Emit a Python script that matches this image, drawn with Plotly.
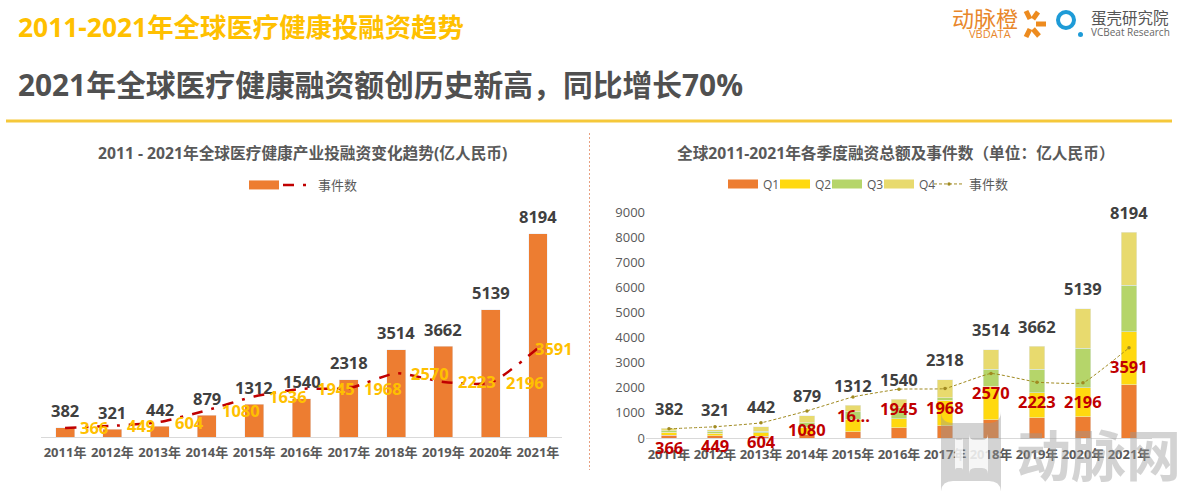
import plotly.graph_objects as go

W, H = 1189, 491
FONT = "Open Sans, Noto Sans CJK SC, sans-serif"
CJK = "Noto Sans CJK SC, sans-serif"

years = ["2011年", "2012年", "2013年", "2014年", "2015年", "2016年",
         "2017年", "2018年", "2019年", "2020年", "2021年"]
totals = [382, 321, 442, 879, 1312, 1540, 2318, 3514, 3662, 5139, 8194]
events = [366, 449, 604, 1080, 1636, 1945, 1968, 2570, 2223, 2196, 3591]
event_labels_right = ["366", "449", "604", "1080", "16...", "1945", "1968",
                      "2570", "2223", "2196", "3591"]
q1 = [118, 94, 69, 135, 240, 413, 495, 735, 815, 840, 2130]
q2 = [106, 93, 138, 298, 515, 347, 1010, 1330, 985, 1160, 2106]
q3 = [66, 80, 69, 175, 292, 440, 105, 665, 930, 1570, 1852]
q4 = [92, 54, 166, 271, 265, 340, 708, 784, 932, 1569, 2106]
y_ticks = [0, 1000, 2000, 3000, 4000, 5000, 6000, 7000, 8000, 9000]

ORANGE = "#ED7D31"
DARK_RED = "#C00000"
GOLD = "#FFC000"


def px(x):
    return x / W


def py(y):
    return 1 - y / H


def text(x, y, s, size, color, bold=False, anchor="left", font=CJK, opacity=1):
    return dict(xref="paper", yref="paper", x=px(x), y=py(y), text=s, showarrow=False,
                xanchor=anchor, yanchor="middle", opacity=opacity,
                font=dict(family=font, size=size, color=color,
                          weight="bold" if bold else "normal"))


def stroke(x0, y0, x1, y1, color, width):
    return dict(type="line", xref="paper", yref="paper", x0=px(x0), y0=py(y0),
                x1=px(x1), y1=py(y1), line=dict(color=color, width=width))


def legend_box(x, y, size=13):
    return dict(orientation="h", x=px(x), xanchor="left", y=py(y), yanchor="middle",
                font=dict(family=FONT, size=size, color="#595959"),
                bgcolor="rgba(0,0,0,0)", itemwidth=30)


def legend_bar(name, color, legend, xa, ya):
    # wide legend swatch like the original, bars only give a small square
    return go.Scatter(x=[None], y=[None], name=name, mode="lines",
                      line=dict(color=color, width=9), legend=legend, xaxis=xa, yaxis=ya)


def rounded_box(x0, y0, x1, y1, r):
    a, b, c, d = px(x0), py(y0), px(x1), py(y1)
    rx, ry = r / W, r / H
    return (f"M {a + rx} {b} L {c - rx} {b} Q {c} {b} {c} {b - ry} L {c} {d + ry} "
            f"Q {c} {d} {c - rx} {d} L {a + rx} {d} Q {a} {d} {a} {d + ry} "
            f"L {a} {b - ry} Q {a} {b} {a + rx} {b} Z")


fig = go.Figure()

# left chart
fig.add_trace(go.Bar(x=years, y=totals, marker_color=ORANGE, width=0.4,
                     xaxis="x", yaxis="y", showlegend=False))
fig.add_trace(legend_bar(" ", ORANGE, "legend", "x", "y"))
fig.add_trace(go.Scatter(x=years, y=events, name="事件数", mode="lines",
                         line=dict(color=DARK_RED, width=2.5, shape="spline", smoothing=0.6,
                                   dash="11px,9px,3px,9px"),
                         xaxis="x", yaxis="y", legend="legend2"))

# right chart
for name, vals, color, leg in [("Q1", q1, ORANGE, "legend3"), ("Q2", q2, "#FFD90F", "legend4"),
                               ("Q3", q3, "#B5D56A", "legend5"), ("Q4", q4, "#E8DA6E", "legend6")]:
    fig.add_trace(go.Bar(x=years, y=vals, marker_color=color, width=0.33,
                         xaxis="x2", yaxis="y2", showlegend=False))
    fig.add_trace(legend_bar(name, color, leg, "x2", "y2"))
fig.add_trace(go.Scatter(x=years, y=events, name="事件数", mode="lines+markers",
                         line=dict(color="#A08A20", width=1, shape="spline", smoothing=0.3,
                                   dash="3px,2px"),
                         marker=dict(size=3.5, color="#A08A20"),
                         xaxis="x2", yaxis="y2", legend="legend7"))

notes = []
label_font = dict(family=FONT, size=16.5, weight="bold")
for i, yr in enumerate(years):
    notes.append(dict(x=yr, y=totals[i], xref="x", yref="y", text=str(totals[i]), showarrow=False,
                      yshift=17, font=dict(label_font, color="#404040")))
    notes.append(dict(x=yr, y=events[i], xref="x", yref="y", text=str(events[i]), showarrow=False,
                      xanchor="left", xshift=-5 if i == 10 else 13,
                      font=dict(label_font, color=GOLD)))
    notes.append(dict(x=yr, y=totals[i], xref="x2", yref="y2", text=str(totals[i]), showarrow=False,
                      yshift=20, font=dict(label_font, color="#404040")))
    notes.append(dict(x=yr, y=events[i], xref="x2", yref="y2", text=event_labels_right[i],
                      showarrow=False, yshift=-19,
                      font=dict(label_font, color=DARK_RED)))

# headings
notes += [
    text(16, 27, "2011-2021年全球医疗健康投融资趋势", 26.4, GOLD, True, font=FONT),
    text(16, 84, "2021年全球医疗健康融资额创历史新高，同比增长70%", 29.8, "#505050", True, font=FONT),
    text(302, 153, "2011 - 2021年全球医疗健康产业投融资变化趋势(亿人民币)", 15.7, "#595959", True, "center", FONT),
    text(896, 153, "全球2011-2021年各季度融资总额及事件数（单位：亿人民币）", 15.7, "#595959", True, "center", FONT),
    # logos
    text(950, 17, "动脉橙", 22, "#E8872B"),
    text(967, 34, "VBDATA", 11, "#E8872B", font=FONT),
    text(1089, 17, "蛋壳研究院", 15.5, "#555555"),
    text(1089, 32, "VCBeat Research", 10, "#666666", font=FONT),
    # watermark
    text(1014, 452, "动脉网", 55, "#999999", True, opacity=0.42),
]

shapes = [
    stroke(6, 121, 1172, 121, "#F5C83A", 3),
    dict(type="line", xref="paper", yref="paper", x0=px(589.5), y0=py(133), x1=px(589.5), y1=py(470),
         line=dict(color="#E8A080", width=1, dash="2px,2px")),
    # orange logo petals
    stroke(1026, 11, 1030, 19, "#ED8B1F", 5),
    stroke(1038, 12, 1033, 19, "#ED8B1F", 5),
    stroke(1036, 24, 1046, 24, "#ED8B1F", 5),
    stroke(1033, 29, 1039, 36, "#ED8B1F", 5),
    stroke(1030, 29, 1026, 37, "#ED8B1F", 5),
    # blue logo ring
    dict(type="circle", xref="paper", yref="paper", x0=px(1058), y0=py(28), x1=px(1074), y1=py(12),
         line=dict(color="#1E9BD7", width=4)),
    dict(type="circle", xref="paper", yref="paper", x0=px(1078), y0=py(37), x1=px(1083), y1=py(32),
         fillcolor="#1E9BD7", line_width=0),
    # watermark badge
    dict(type="path", xref="paper", yref="paper", path=rounded_box(941, 481, 1001, 423, 12),
         fillcolor="rgba(150,150,150,0.42)", line_width=0),
    dict(type="path", xref="paper", yref="paper", path=rounded_box(955, 468, 963, 440, 2),
         fillcolor="rgba(255,255,255,0.8)", line_width=0),
    dict(type="path", xref="paper", yref="paper", path=rounded_box(969, 468, 988, 440, 6),
         fillcolor="rgba(255,255,255,0.8)", line_width=0),
]

tickfont = dict(family=FONT, size=13, color="#595959", weight="bold")
fig.update_layout(
    width=W, height=H,
    margin=dict(l=0, r=0, t=0, b=0, autoexpand=False),
    paper_bgcolor="white", plot_bgcolor="white",
    barmode="stack",
    annotations=notes,
    shapes=shapes,
    xaxis=dict(domain=[px(41.4), px(561.6)], anchor="y", range=[-0.5, 10.5], tickangle=0,
               tickfont=tickfont, ticklabelstandoff=3, showline=True, linecolor="#D9D9D9",
               showgrid=False, ticks=""),
    yaxis=dict(domain=[py(437), py(214)], anchor="x", range=[0, 9000], visible=False),
    xaxis2=dict(domain=[px(646), px(1152)], anchor="y2", range=[-0.5, 10.5], tickangle=0,
                tickfont=tickfont, ticklabelstandoff=4, showline=True, linecolor="#D9D9D9",
                showgrid=False, ticks=""),
    yaxis2=dict(domain=[py(438), py(212)], anchor="x2", range=[0, 9000], tickvals=y_ticks,
                showgrid=False, zeroline=False, ticks="",
                tickfont=dict(family=FONT, size=13, color="#595959")),
    legend=legend_box(244, 185),
    legend2=legend_box(278, 185),
    legend3=legend_box(723, 184, 12),
    legend4=legend_box(775, 184, 12),
    legend5=legend_box(827, 184, 12),
    legend6=legend_box(879, 184, 12),
    legend7=legend_box(929, 184),
)

fig.write_html("out.html", post_script="document.body.style.margin='0';",
               config={"displayModeBar": False})
